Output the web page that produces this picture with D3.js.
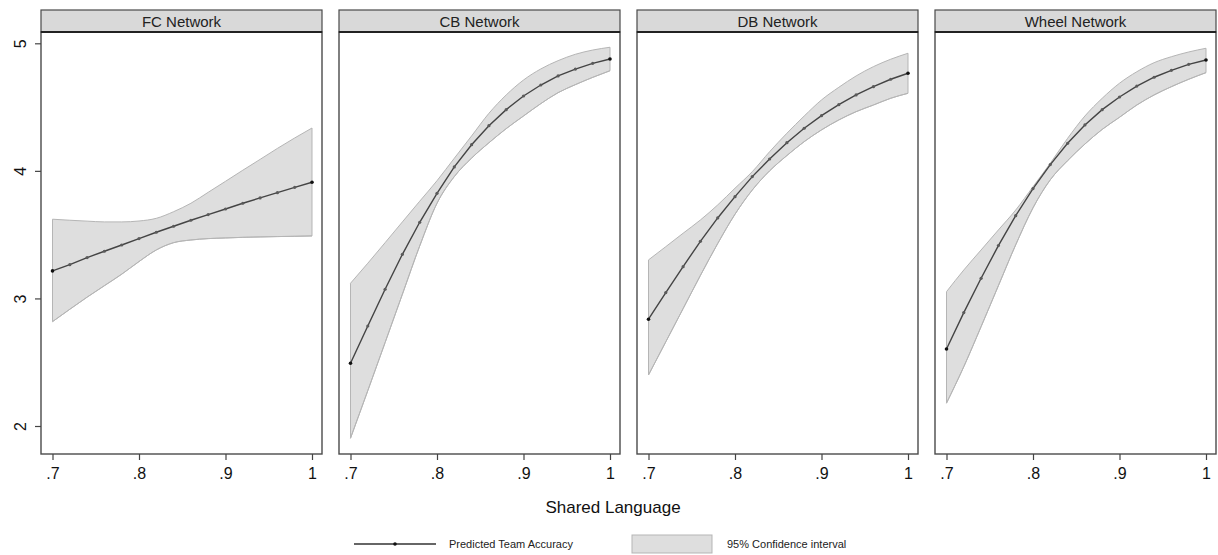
<!DOCTYPE html>
<html>
<head>
<meta charset="utf-8">
<script src="https://cdn.jsdelivr.net/npm/d3@7"></script>
<style>
  body { margin: 0; background: #fff; }
  text { font-family: "Liberation Sans", Arial, sans-serif; }
</style>
</head>
<body>
<div class="canvas"></div>
<script>
// Data

const panels = ["FC Network", "CB Network", "DB Network", "Wheel Network"];
const sharedLang = [0.70, 0.72, 0.74, 0.76, 0.78, 0.80, 0.82, 0.84, 0.86, 0.88, 0.90, 0.92, 0.94, 0.96, 0.98, 1.00];
const xTicks = [0.7, 0.8, 0.9, 1];
const xTickLabels = [".7", ".8", ".9", "1"];
const yTicks = [2, 3, 4, 5];

const fcFit   = [3.216, 3.265, 3.320, 3.370, 3.419, 3.469, 3.519, 3.566, 3.613, 3.657, 3.701, 3.746, 3.788, 3.829, 3.871, 3.911];
const fcLower = [2.818, 2.915, 3.010, 3.100, 3.190, 3.289, 3.380, 3.437, 3.458, 3.469, 3.474, 3.479, 3.482, 3.485, 3.487, 3.490];
const fcUpper = [3.621, 3.613, 3.606, 3.600, 3.600, 3.607, 3.628, 3.680, 3.746, 3.832, 3.918, 4.005, 4.090, 4.176, 4.258, 4.336];

const cbFit   = [2.492, 2.784, 3.072, 3.346, 3.597, 3.824, 4.031, 4.205, 4.354, 4.480, 4.587, 4.673, 4.744, 4.798, 4.843, 4.877];
const cbLower = [1.904, 2.277, 2.654, 3.033, 3.411, 3.746, 3.955, 4.100, 4.220, 4.331, 4.430, 4.527, 4.613, 4.676, 4.733, 4.785];
const cbUpper = [3.119, 3.276, 3.437, 3.600, 3.762, 3.923, 4.099, 4.274, 4.451, 4.595, 4.712, 4.799, 4.864, 4.914, 4.947, 4.969];

const dbFit   = [2.837, 3.046, 3.249, 3.448, 3.631, 3.798, 3.955, 4.093, 4.221, 4.334, 4.433, 4.519, 4.595, 4.660, 4.718, 4.765];
const dbLower = [2.400, 2.660, 2.920, 3.180, 3.430, 3.660, 3.850, 4.000, 4.120, 4.229, 4.321, 4.399, 4.464, 4.516, 4.569, 4.608];
const dbUpper = [3.302, 3.406, 3.511, 3.615, 3.733, 3.864, 3.994, 4.150, 4.295, 4.430, 4.556, 4.655, 4.744, 4.817, 4.875, 4.922];

const wheelFit   = [2.604, 2.889, 3.158, 3.414, 3.649, 3.861, 4.049, 4.216, 4.360, 4.480, 4.579, 4.665, 4.734, 4.788, 4.835, 4.869];
const wheelLower = [2.179, 2.465, 2.779, 3.100, 3.420, 3.710, 3.930, 4.080, 4.210, 4.325, 4.420, 4.516, 4.595, 4.660, 4.718, 4.770];
const wheelUpper = [3.053, 3.223, 3.380, 3.537, 3.693, 3.876, 4.060, 4.255, 4.430, 4.569, 4.687, 4.777, 4.848, 4.895, 4.932, 4.961];

const fits   = [fcFit, cbFit, dbFit, wheelFit];
const lowers = [fcLower, cbLower, dbLower, wheelLower];
const uppers = [fcUpper, cbUpper, dbUpper, wheelUpper];

// Layout

const W = 1218, H = 555;
const panelLeft0 = 41, panelStep = 298, panelW = 281;
const stripTop = 10, plotTop = 32, plotBottom = 454;

const svg = d3.select(".canvas")
    .append("svg")
      .attr("width", W)
      .attr("height", H);

const y = d3.scaleLinear()
    .domain([2, 5])
    .range([426, 43.3]);

const band = d3.area()
    .curve(d3.curveMonotoneX)
    .x(d => d.px)
    .y0(d => y(d.lo))
    .y1(d => y(d.hi));

panels.forEach((name, p) => {
    const left = panelLeft0 + p * panelStep;
    const x = d3.scaleLinear()
        .domain([0.7, 1])
        .range([left + 11.5, left + 271]);

    const g = svg.append("g");

    // plot frame
    g.append("rect")
        .attr("x", left)
        .attr("y", plotTop)
        .attr("width", panelW)
        .attr("height", plotBottom - plotTop)
        .attr("fill", "#fff")
        .attr("stroke", "#4a4a4a")
        .attr("stroke-width", 1.4);

    // header strip
    g.append("rect")
        .attr("x", left)
        .attr("y", stripTop)
        .attr("width", panelW)
        .attr("height", plotTop - stripTop)
        .attr("fill", "#d9d9d9")
        .attr("stroke", "#4a4a4a")
        .attr("stroke-width", 1.2);
    g.append("line")
        .attr("x1", left).attr("x2", left + panelW)
        .attr("y1", plotTop).attr("y2", plotTop)
        .attr("stroke", "#222")
        .attr("stroke-width", 2);
    g.append("text")
        .attr("x", left + panelW / 2)
        .attr("y", 27)
        .attr("text-anchor", "middle")
        .style("font-size", "15px")
        .style("fill", "#222")
        .text(name);

    // confidence band
    const rows = sharedLang.map((v, i) => ({ px: x(v), lo: lowers[p][i], hi: uppers[p][i] }));
    g.append("path")
        .datum(rows)
        .attr("fill", "#dedede")
        .attr("stroke", "#b5b5b5")
        .attr("stroke-width", 1)
        .attr("d", band);
    g.append("path")
        .datum(rows)
        .attr("fill", "none")
        .attr("stroke", "#b5b5b5")
        .attr("stroke-width", 1)
        .attr("d", d3.line().curve(d3.curveMonotoneX).x(d => d.px).y(d => y(d.lo)));

    // predicted line
    g.append("path")
        .datum(sharedLang)
        .attr("fill", "none")
        .attr("stroke", "#444")
        .attr("stroke-width", 1.4)
        .attr("d", d3.line().x(d => x(d)).y((d, i) => y(fits[p][i])));

    g.selectAll(".pt")
        .data(sharedLang)
        .join("circle")
        .attr("cx", d => x(d))
        .attr("cy", (d, i) => y(fits[p][i]))
        .attr("r", (d, i) => (i === 0 || i === sharedLang.length - 1) ? 1.8 : 1.6)
        .attr("fill", (d, i) => (i === 0 || i === sharedLang.length - 1) ? "#111" : "#5a5a5a");

    // x axis
    const xAxis = g.append("g")
        .attr("transform", `translate(0,${plotBottom})`)
        .call(d3.axisBottom(x)
            .tickValues(xTicks)
            .tickFormat((d, i) => xTickLabels[i])
            .tickSize(6)
            .tickPadding(8));
    xAxis.select(".domain").remove();
    xAxis.selectAll(".tick line").attr("stroke", "#444").attr("stroke-width", 1.2);
    xAxis.selectAll(".tick text")
        .style("font-size", "16px")
        .style("font-family", '"Liberation Sans", Arial, sans-serif')
        .attr("fill", "#111");

    // y axis only on first panel
    if (p === 0) {
        const yAxis = g.append("g")
            .attr("transform", `translate(${left},0)`)
            .call(d3.axisLeft(y)
                .tickValues(yTicks)
                .tickSize(6)
                .tickFormat(d3.format("d")));
        yAxis.select(".domain").remove();
        yAxis.selectAll(".tick line").attr("stroke", "#444").attr("stroke-width", 1.2);
        yAxis.selectAll(".tick text")
            .attr("x", 0)
            .attr("dy", 0)
            .attr("transform", "translate(-15,0) rotate(-90)")
            .attr("text-anchor", "middle")
            .style("font-size", "16px")
            .style("font-family", '"Liberation Sans", Arial, sans-serif')
            .attr("fill", "#111");
    }
});

// Axis title

svg.append("text")
    .attr("x", 613)
    .attr("y", 513)
    .attr("text-anchor", "middle")
    .style("font-size", "17px")
    .style("fill", "#111")
    .text("Shared Language");

// Legend

const lg = svg.append("g");
lg.append("line")
    .attr("x1", 354).attr("x2", 436)
    .attr("y1", 544).attr("y2", 544)
    .attr("stroke", "#333")
    .attr("stroke-width", 1.6);
lg.append("circle")
    .attr("cx", 395).attr("cy", 544)
    .attr("r", 1.8)
    .attr("fill", "#111");
lg.append("text")
    .attr("x", 449).attr("y", 548)
    .style("font-size", "11px")
    .style("fill", "#222")
    .text("Predicted Team Accuracy");
lg.append("rect")
    .attr("x", 632).attr("y", 535)
    .attr("width", 80).attr("height", 18)
    .attr("fill", "#dedede")
    .attr("stroke", "#b5b5b5");
lg.append("text")
    .attr("x", 727).attr("y", 548)
    .style("font-size", "11px")
    .style("fill", "#222")
    .text("95% Confidence interval");
</script>
</body>
</html>
